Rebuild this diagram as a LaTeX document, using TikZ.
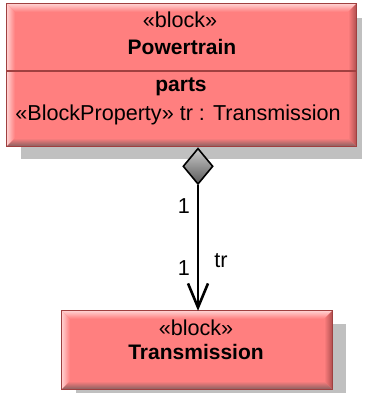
\documentclass[tikz,border=0pt]{standalone}
\usepackage{fontspec}
\setmainfont{Liberation Sans}
\usetikzlibrary{shapes.geometric,arrows.meta}
\definecolor{boxfill}{HTML}{FF7F7F}
\definecolor{boxedge}{HTML}{A04040}
\definecolor{bevlight}{HTML}{FFD0D0}
\definecolor{bevdark}{HTML}{B05050}
\definecolor{bevbottom}{HTML}{886060}
\definecolor{shadowc}{HTML}{C0C0C0}
\newcommand\mybevel[1]{%
  \fill[boxfill] (#1.north west) rectangle (#1.south east);
  \shade[top color=bevlight,bottom color=boxfill] (#1.north west) -- (#1.north east) -- ([shift={(-8,8)}]#1.north east) -- ([shift={(8,8)}]#1.north west) -- cycle;
  \shade[left color=bevlight,right color=boxfill] (#1.north west) -- ([shift={(8,8)}]#1.north west) -- ([shift={(8,-8)}]#1.south west) -- (#1.south west) -- cycle;
  \shade[left color=boxfill,right color=bevdark] (#1.north east) -- (#1.south east) -- ([shift={(-8,-8)}]#1.south east) -- ([shift={(-8,8)}]#1.north east) -- cycle;
  \shade[top color=boxfill,bottom color=bevbottom] (#1.south west) -- ([shift={(8,-8)}]#1.south west) -- ([shift={(-8,-8)}]#1.south east) -- (#1.south east) -- cycle;
  \draw[boxedge,line width=1.3pt] (#1.north west) rectangle (#1.south east);
}
\begin{document}
\begin{tikzpicture}[x=1pt,y=-1pt,
  every node/.style={font=\fontsize{21.6}{25}\selectfont,text=black},
  boxnode/.style={inner sep=0pt,draw=none},
  bl/.style={font=\fontsize{21}{25}\selectfont\bfseries}]
\useasboundingbox (0,0) rectangle (366,393);
% shadows
\fill[shadowc] (21,18) rectangle (362,159);
\fill[shadowc] (76,324) rectangle (346,393);
% boxes
\node[boxnode,minimum width=349pt,minimum height=142pt] (pt) at (181.5,75) {};
\node[boxnode,minimum width=270pt,minimum height=78pt] (tm) at (197,350) {};
\mybevel{pt}
\mybevel{tm}
\draw[boxedge,line width=1.3pt] (pt.west |- 0,71) -- (pt.east |- 0,71);
% texts
\node (ptst) at (180,20) {«block»};
\node[bl] (ptname) at (182,47) {Powertrain};
\node[bl] (ptparts) at (181,87) {parts};
\node (ptprop) at (178,115) {«BlockProperty» tr : Transmission};
\node (tmst) at (196,328) {«block»};
\node[bl] (tmname) at (196,352) {Transmission};
% connector
\node[diamond,draw=black,line width=1.6pt,inner sep=0pt,minimum width=30pt,minimum height=36pt,
  top color=gray!40,bottom color=gray!70!black,anchor=north] (dia) at (198,147.5) {};
\draw[line width=2.6pt,-{Straight Barb[length=24pt,width=20pt]}] (dia.south) -- (dia.south |- tm.north);
\node (m1) at (184,206) {1};
\node (m2) at (184,268) {1};
\node (rn) at (221,261) {tr};
\end{tikzpicture}
\end{document}
